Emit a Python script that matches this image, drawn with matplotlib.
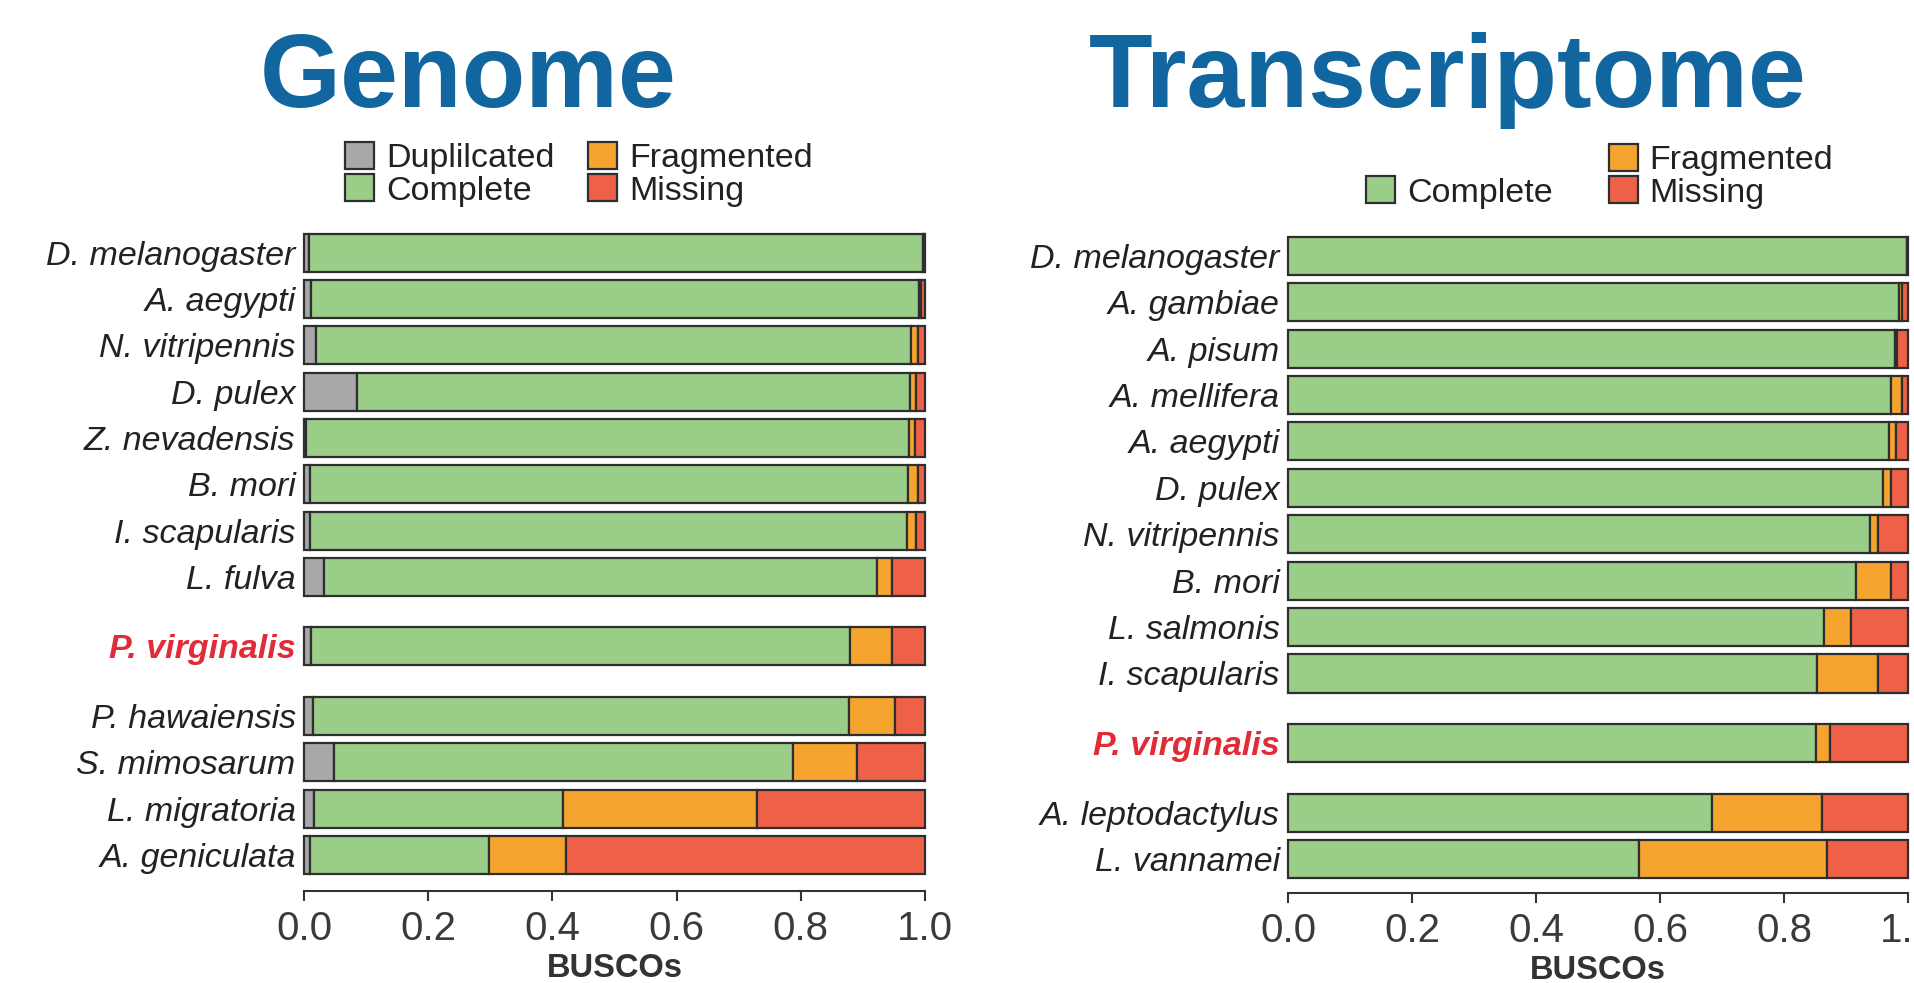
import numpy as np
import matplotlib
matplotlib.use("Agg")
import matplotlib.pyplot as plt
from matplotlib.patches import Patch
from matplotlib.ticker import FormatStrFormatter

plt.rcParams.update({
    "font.family": ["Liberation Sans", "DejaVu Sans"],
    "axes.linewidth": 1.5,
})

# ─── DATA (fractions of BUSCOs) ─────────────────────────────────────────
genome_species = ["D. melanogaster", "A. aegypti", "N. vitripennis", "D. pulex",
                  "Z. nevadensis", "B. mori", "I. scapularis", "L. fulva",
                  "P. virginalis", "P. hawaiensis", "S. mimosarum",
                  "L. migratoria", "A. geniculata"]
genome_dup = [0.008, 0.012, 0.020, 0.085, 0.003, 0.010, 0.009, 0.033,
              0.012, 0.014, 0.048, 0.016, 0.009]
genome_complete = [0.989, 0.979, 0.958, 0.891, 0.971, 0.962, 0.962, 0.890,
                   0.867, 0.863, 0.740, 0.401, 0.289]
genome_frag = [0.001, 0.003, 0.010, 0.010, 0.010, 0.016, 0.015, 0.024,
               0.068, 0.075, 0.103, 0.313, 0.124]
genome_missing = [0.002, 0.006, 0.012, 0.014, 0.016, 0.012, 0.014, 0.053,
                  0.053, 0.048, 0.109, 0.270, 0.578]
genome_rows = [0, 1, 2, 3, 4, 5, 6, 7, 8.5, 10, 11, 12, 13]

trans_species = ["D. melanogaster", "A. gambiae", "A. pisum", "A. mellifera",
                 "A. aegypti", "D. pulex", "N. vitripennis", "B. mori",
                 "L. salmonis", "I. scapularis", "P. virginalis",
                 "A. leptodactylus", "L. vannamei"]
trans_complete = [0.998, 0.986, 0.979, 0.972, 0.969, 0.959, 0.938, 0.916,
                  0.865, 0.853, 0.851, 0.684, 0.566]
trans_frag = [0.000, 0.005, 0.004, 0.018, 0.011, 0.013, 0.013, 0.057,
              0.043, 0.099, 0.023, 0.177, 0.303]
trans_missing = [0.002, 0.009, 0.017, 0.010, 0.020, 0.028, 0.049, 0.027,
                 0.092, 0.048, 0.126, 0.139, 0.131]
trans_rows = [0, 1, 2, 3, 4, 5, 6, 7, 8, 9, 10.5, 12, 13]

xticks = [0.0, 0.2, 0.4, 0.6, 0.8, 1.0]
highlight = "P. virginalis"

# ─── STYLE ──────────────────────────────────────────────────────────────
C_DUP = "#A8A8A8"
C_COMP = "#9ACD88"
C_FRAG = "#F6A430"
C_MISS = "#EE6048"
EDGE = "#2E2E2E"
TITLE_BLUE = "#11669F"
RED = "#E12B36"
W, H = 1915, 983

fig = plt.figure(figsize=(W / 100, H / 100), dpi=100)


def px_axes(left, right, top, bottom):
    return fig.add_axes([left / W, 1 - bottom / H, (right - left) / W, (bottom - top) / H])


def stacked(ax, rows, segments):
    left = np.zeros(len(rows))
    for vals, col in segments:
        ax.barh(rows, vals, left=left, height=0.82, color=col,
                edgecolor=EDGE, linewidth=1.6, clip_on=False)
        left = left + np.array(vals)


def style_axis(ax, rows, names, ylim):
    ax.set_xlim(0, 1)
    ax.set_ylim(*ylim)
    for s in ("left", "top", "right"):
        ax.spines[s].set_visible(False)
    ax.spines["bottom"].set_color("#333333")
    ax.set_xticks(xticks)
    ax.xaxis.set_major_formatter(FormatStrFormatter("%.1f"))
    ax.tick_params(axis="x", length=7.5, width=1.5, color="#333333",
                   labelsize=29, labelcolor="#3a3a3a", pad=6)
    ax.set_yticks(rows)
    ax.set_yticklabels(names)
    ax.tick_params(axis="y", length=0, pad=6, labelsize=24.5, labelcolor="#222222")
    for lab in ax.get_yticklabels():
        lab.set_fontstyle("italic")
        if lab.get_text() == highlight:
            lab.set_color(RED)
            lab.set_fontweight("bold")
    ax.set_xlabel("BUSCOs", fontsize=23.5, fontweight="bold", color="#333333", labelpad=4)
    ax.set_facecolor("none")


# ─── GENOME PANEL ───────────────────────────────────────────────────────
ax1 = px_axes(304, 925, 225, 891)
stacked(ax1, genome_rows, [(genome_dup, C_DUP), (genome_complete, C_COMP),
                           (genome_frag, C_FRAG), (genome_missing, C_MISS)])
style_axis(ax1, genome_rows, genome_species, (13.78, -0.6))

# ─── TRANSCRIPTOME PANEL ────────────────────────────────────────────────
ax2 = px_axes(1288, 1908, 228, 893)
stacked(ax2, trans_rows, [(trans_complete, C_COMP), (trans_frag, C_FRAG),
                          (trans_missing, C_MISS)])
style_axis(ax2, trans_rows, trans_species, (13.73, -0.6))

# ─── TITLES ─────────────────────────────────────────────────────────────
fig.text(468 / W, 1 - 107 / H, "Genome", fontsize=75, fontweight="bold",
         color=TITLE_BLUE, ha="center", va="baseline")
fig.text(1448 / W, 1 - 107 / H, "Transcriptome", fontsize=75, fontweight="bold",
         color=TITLE_BLUE, ha="center", va="baseline")

# ─── LEGENDS ────────────────────────────────────────────────────────────
def box(col, lab):
    return Patch(facecolor=col, edgecolor=EDGE, linewidth=1.6, label=lab)

leg_kw = dict(loc="upper left", ncol=2, frameon=False, fontsize=24.5,
              borderpad=0, borderaxespad=0, handlelength=0.85, handleheight=0.85,
              handletextpad=0.35, labelspacing=0.0)
leg1 = fig.legend(handles=[box(C_DUP, "Duplilcated"), box(C_COMP, "Complete"),
                           box(C_FRAG, "Fragmented"), box(C_MISS, "Missing")],
                  bbox_to_anchor=(345 / W, 1 - 142 / H), columnspacing=1.0, **leg_kw)
blank = Patch(facecolor="none", edgecolor="none", label=" ")
leg2 = fig.legend(handles=[blank, box(C_COMP, "Complete"),
                           box(C_FRAG, "Fragmented"), box(C_MISS, "Missing")],
                  bbox_to_anchor=(1366 / W, 1 - 144 / H), columnspacing=1.65, **leg_kw)
for leg in (leg1, leg2):
    for txt in leg.get_texts():
        txt.set_color("#222222")

fig.savefig("out.png", dpi=100)
